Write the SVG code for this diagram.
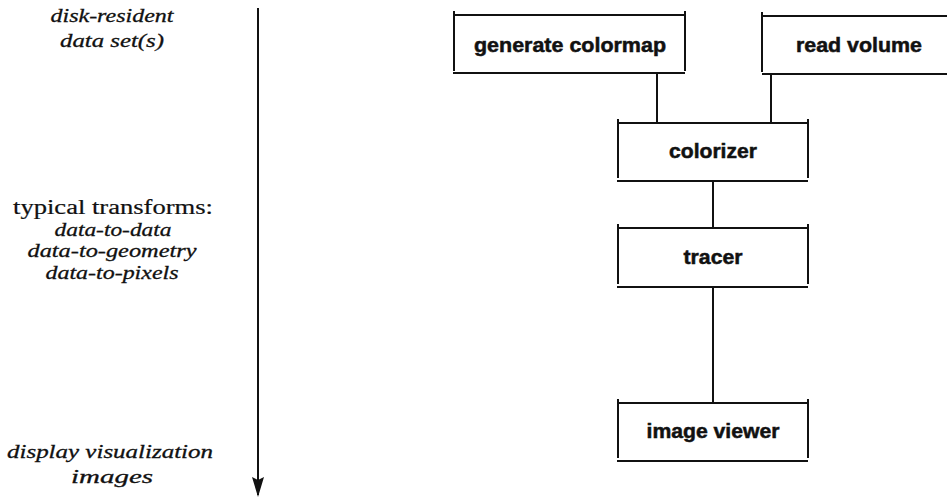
<svg xmlns="http://www.w3.org/2000/svg" width="947" height="498" viewBox="0 0 947 498">
<style>
.box{fill:none;stroke:#111;stroke-width:2}
.conn{stroke:#111;stroke-width:2;fill:none}
.lbl{font-family:"Liberation Sans",Arial,sans-serif;font-weight:bold;font-size:20px;fill:#111;stroke:#111;stroke-width:0.5;text-anchor:middle}
.it{font-family:"Liberation Serif","DejaVu Serif",serif;font-style:italic;font-size:19px;fill:#111;stroke:#111;stroke-width:0.3;text-anchor:middle}
.rm{font-family:"Liberation Serif","DejaVu Serif",serif;font-size:20px;fill:#111;stroke:#111;stroke-width:0.2;text-anchor:middle}
</style>
<defs>
<marker id="ah" markerWidth="20" markerHeight="12" refX="18" refY="6" orient="auto" markerUnits="userSpaceOnUse" viewBox="0 0 20 12">
<path d="M0,0 L3,6 L0,12 L20,6 Z" fill="#111"/>
</marker>
</defs>
<g id="axis">
<line class="conn" x1="258" y1="8" x2="258" y2="495" marker-end="url(#ah)"/>
</g>
<g id="left-labels">
<text class="it" x="112" y="22" textLength="123" lengthAdjust="spacingAndGlyphs">disk-resident</text>
<text class="it" x="112" y="47" textLength="104" lengthAdjust="spacingAndGlyphs">data set(s)</text>
<text class="rm" x="113" y="214" textLength="200" lengthAdjust="spacingAndGlyphs">typical transforms:</text>
<text class="it" x="113" y="236" textLength="117" lengthAdjust="spacingAndGlyphs">data-to-data</text>
<text class="it" x="112" y="257" textLength="169" lengthAdjust="spacingAndGlyphs">data-to-geometry</text>
<text class="it" x="112" y="279" textLength="133" lengthAdjust="spacingAndGlyphs">data-to-pixels</text>
<text class="it" x="110" y="458" textLength="206" lengthAdjust="spacingAndGlyphs">display visualization</text>
<text class="it" x="112" y="483" textLength="82" lengthAdjust="spacingAndGlyphs">images</text>
</g>
<g id="connectors">
<line class="conn" x1="657" y1="73" x2="657" y2="123"/>
<line class="conn" x1="771" y1="74" x2="771" y2="123"/>
<line class="conn" x1="713" y1="181" x2="713" y2="228"/>
<line class="conn" x1="713" y1="287" x2="713" y2="403"/>
</g>
<g id="generate-colormap">
<path class="box" d="M454,11 V71 M685,11 V71 M454,15 H685 M453,73 H685"/>
<text class="lbl" x="570" y="52" textLength="192" lengthAdjust="spacingAndGlyphs">generate colormap</text>
</g>
<g id="read-volume">
<path class="box" d="M762,12 V72 M762,16 H956 M762,74 H956"/>
<text class="lbl" x="859" y="52" textLength="126" lengthAdjust="spacingAndGlyphs">read volume</text>
</g>
<g id="colorizer">
<path class="box" d="M618,119 V178 M808,119 V178 M618,123 H808 M617,181 H808"/>
<text class="lbl" x="713" y="158" textLength="88" lengthAdjust="spacingAndGlyphs">colorizer</text>
</g>
<g id="tracer">
<path class="box" d="M618,224 V284 M808,224 V284 M618,228 H808 M617,287 H808"/>
<text class="lbl" x="713" y="264" textLength="59" lengthAdjust="spacingAndGlyphs">tracer</text>
</g>
<g id="image-viewer">
<path class="box" d="M618,399 V458 M808,399 V458 M618,403 H808 M617,461 H808"/>
<text class="lbl" x="713" y="438" textLength="133" lengthAdjust="spacingAndGlyphs">image viewer</text>
</g>
</svg>
